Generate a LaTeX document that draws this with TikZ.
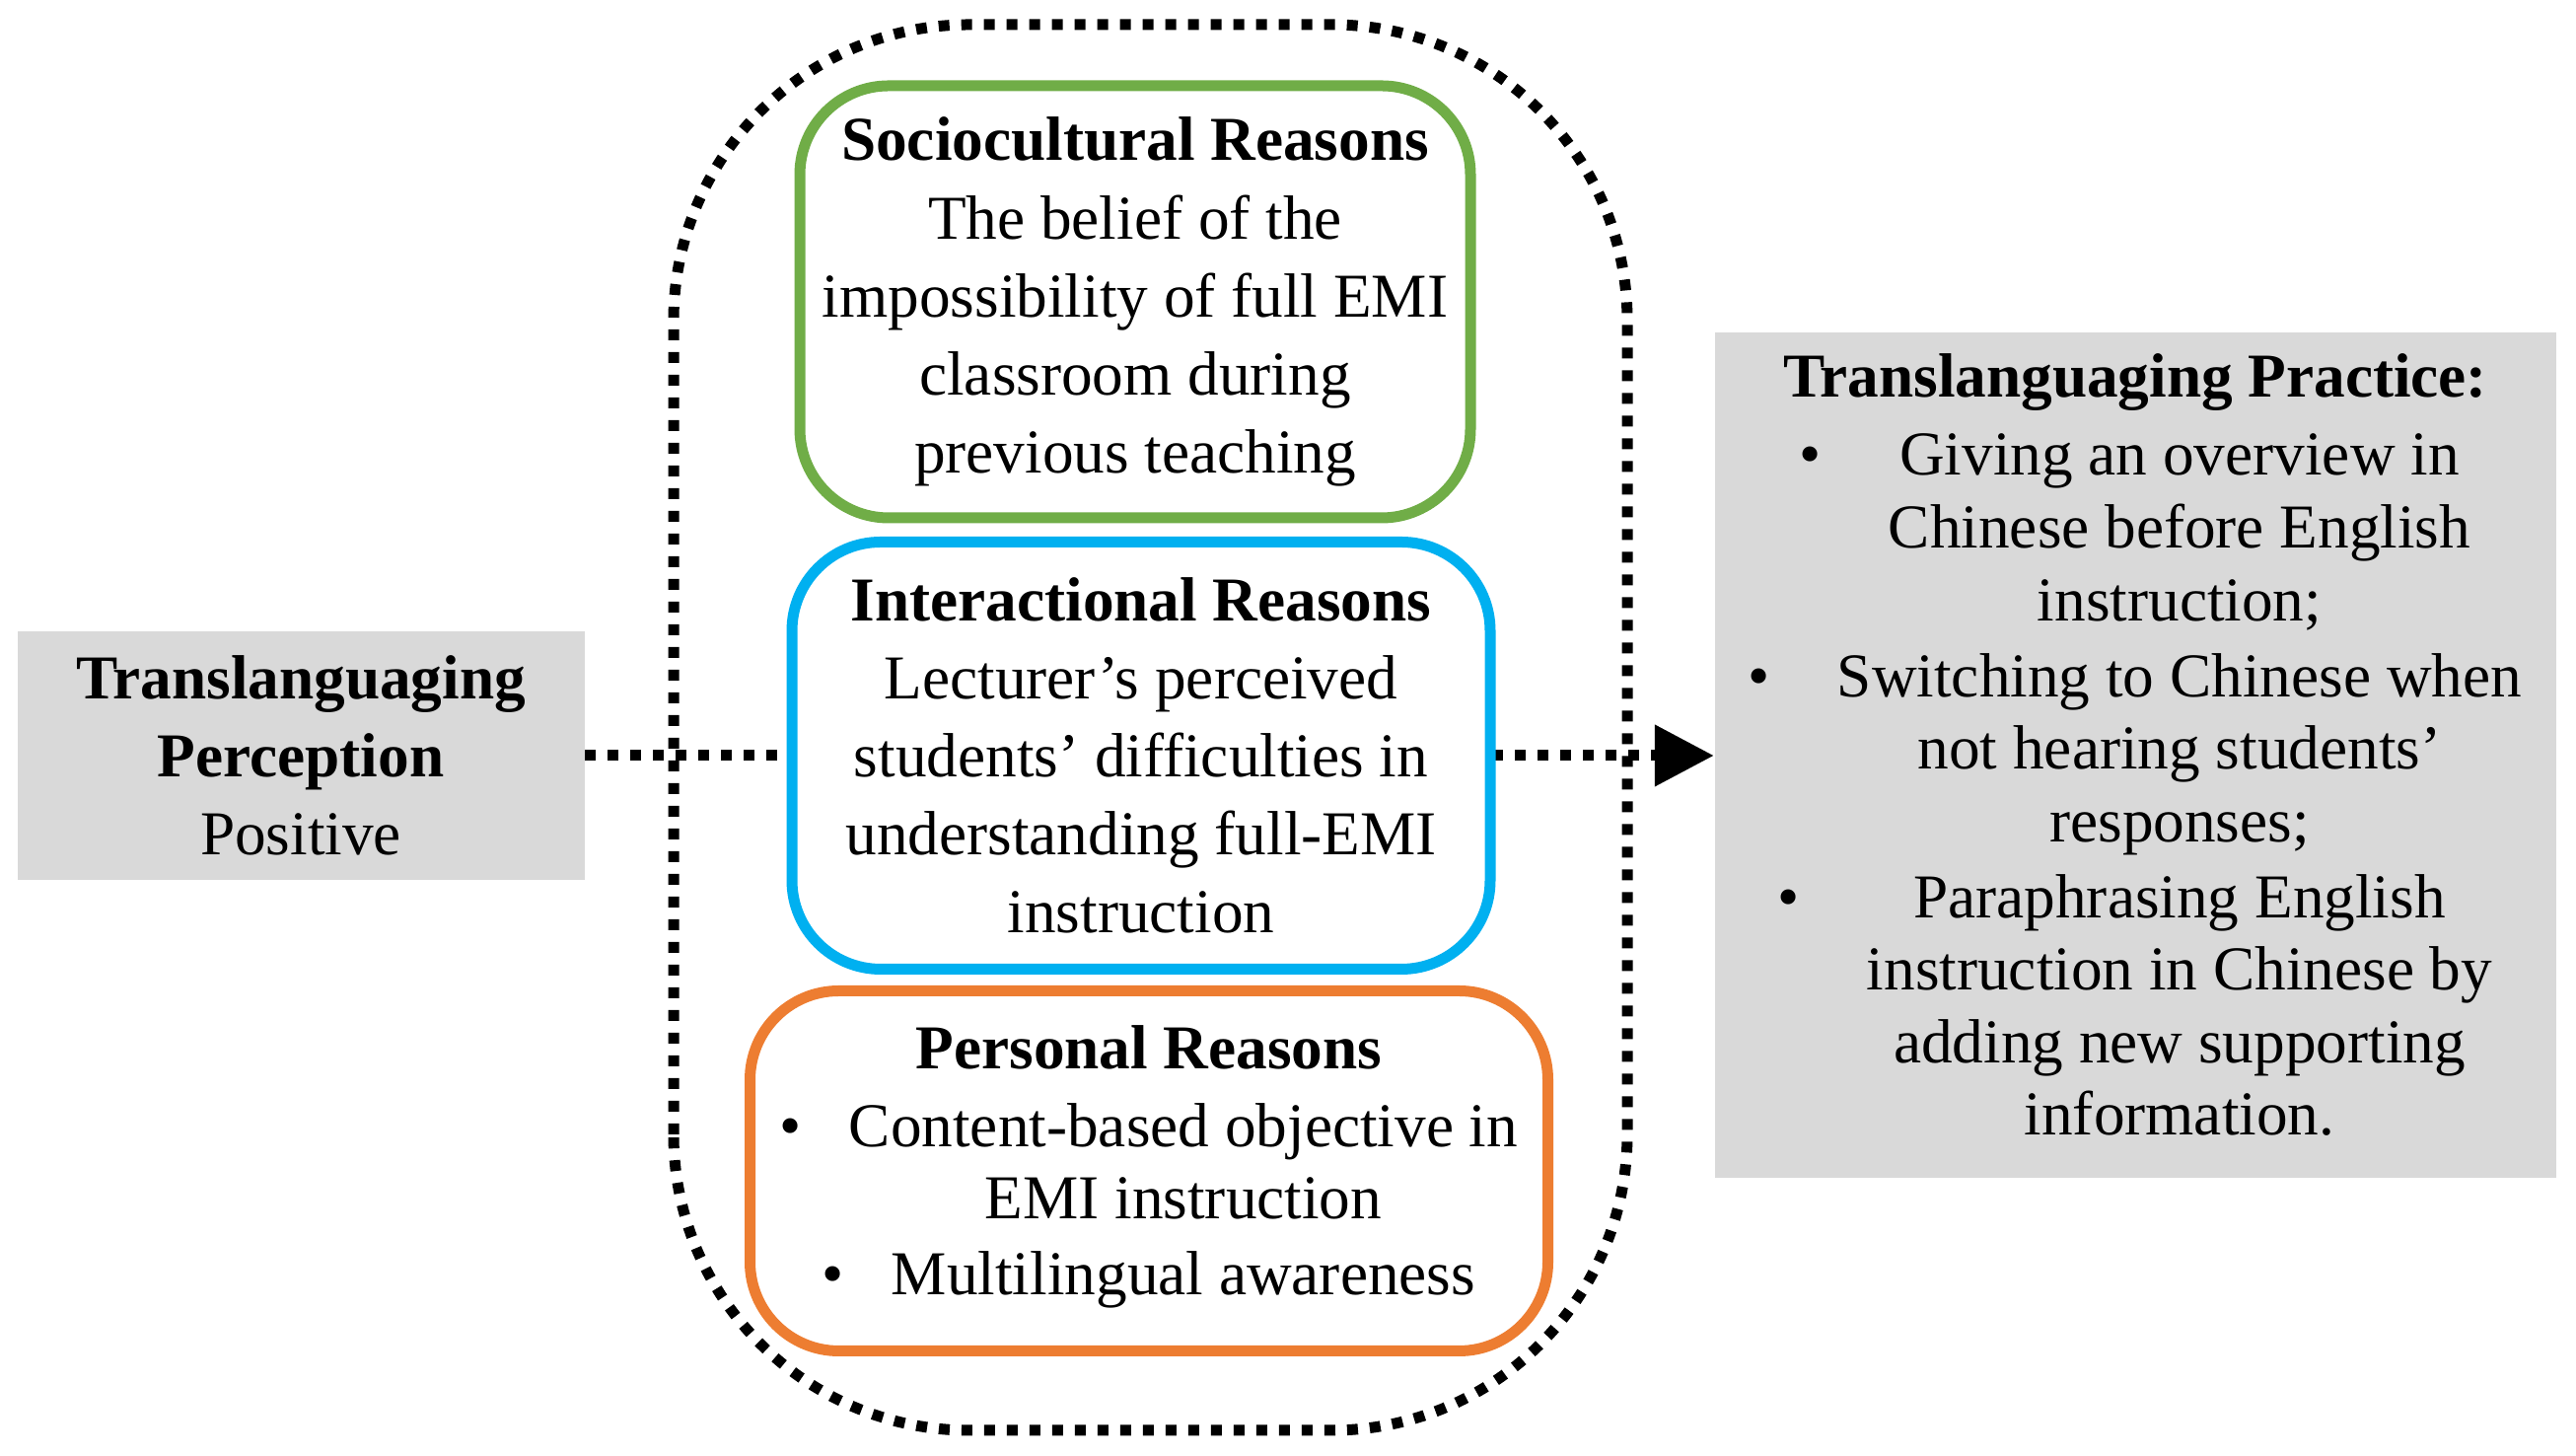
\documentclass[tikz,border=0pt]{standalone}
\usepackage{fontspec}
\setmainfont{Liberation Serif}
\usetikzlibrary{positioning, arrows.meta}
\newcommand{\bulitem}[2]{\makebox[#1][l]{\textbullet}\begin{tabular}[t]{@{}c@{}}#2\end{tabular}}
\begin{document}
\begin{tikzpicture}[
    x=1cm, y=1cm,
    txt/.style={align=center, font=\fontsize{18}{22.5}\selectfont, inner sep=0pt},
    graybox/.style={fill=black!15, draw=none},
    reason/.style={draw, line width=1.1mm, rounded corners=0.9cm, fill=white},
    dots/.style={line width=1.1mm, dash pattern=on 1.1mm off 1.2mm}
]
\useasboundingbox (0,0) rectangle (26.12,14.76);
\renewcommand{\arraystretch}{0.93}

%%%%% Boxes
\node[graybox, minimum width=5.75cm, minimum height=2.52cm] (perc) at (3.05,7.1) {};
\node[txt] at (perc) {\textbf{Translanguaging}\\ \textbf{Perception}\\ Positive};

\node[graybox, minimum width=8.53cm, minimum height=8.57cm] (prac) at (21.65,7.1) {};

% dotted container
\draw[dots, rounded corners=3cm] (6.83,0.26) rectangle (16.5,14.51);

% arrow through the middle
\draw[dots, -{Triangle[length=0.6cm, width=0.6cm]}] (perc.east) -- (prac.west);

% reasons
\node[reason, draw={rgb,255:red,112;green,173;blue,71}, minimum width=6.8cm, minimum height=4.38cm] (socio) at (11.51,11.7) {};
\node[txt] at (socio) {\textbf{Sociocultural Reasons}\\ The belief of the\\ impossibility of full EMI\\ classroom during\\ previous teaching};

\node[reason, draw={rgb,255:red,0;green,176;blue,240}, minimum width=7.08cm, minimum height=4.33cm] (inter) at (11.57,7.1) {};
\node[txt] at (inter) {\textbf{Interactional Reasons}\\ Lecturer's perceived\\ students' difficulties in\\ understanding full-EMI\\ instruction};

\node[reason, draw={rgb,255:red,237;green,125;blue,49}, minimum width=8.09cm, minimum height=3.65cm] (pers) at (11.65,2.89) {};
\node[txt] at (pers) {\textbf{Personal Reasons}\\
  \bulitem{0.7cm}{Content-based objective in\\ EMI instruction}\\
  \bulitem{0.7cm}{Multilingual awareness}};

\node[txt] at (prac) {\textbf{Translanguaging Practice:}\\
  \bulitem{0.9cm}{Giving an overview in\\ Chinese before English\\ instruction;}\\
  \bulitem{0.9cm}{Switching to Chinese when\\ not hearing students'\\ responses;}\\
  \bulitem{0.9cm}{Paraphrasing English\\ instruction in Chinese by\\ adding new supporting\\ information.}};
\end{tikzpicture}
\end{document}
